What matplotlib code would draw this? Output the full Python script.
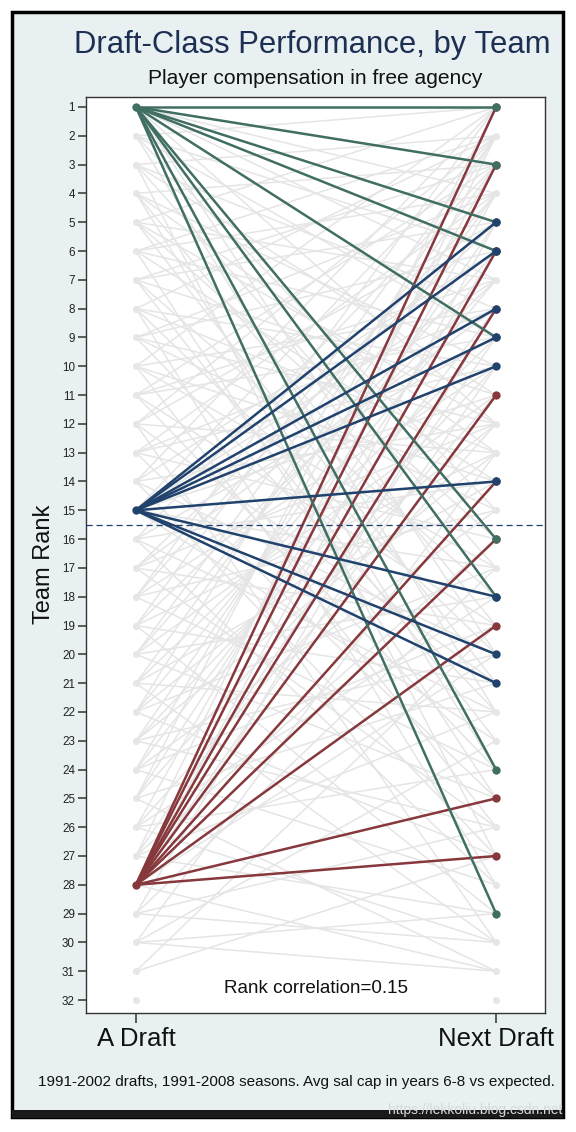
import matplotlib
matplotlib.use("Agg")
import matplotlib.pyplot as plt
from matplotlib.patches import Rectangle

plt.rcParams['font.family'] = ['Liberation Sans', 'DejaVu Sans']

# ---------------- data ----------------
ranks = list(range(1, 33))
x_labels = ["A Draft", "Next Draft"]

green_from = 1
green_to = [1, 3, 5, 6, 9, 16, 18, 24, 29]
blue_from = 15
blue_to = [5, 6, 8, 9, 10, 14, 18, 20, 21]
red_from = 28
red_to = [1, 3, 6, 8, 11, 14, 16, 19, 25, 27]

gray_from = [1, 1, 1, 1,
             2, 2, 2, 2, 2,
             3, 3, 3, 3, 3,
             4, 4, 4, 4, 4,
             5, 5, 5, 5, 5,
             6, 6, 6, 6, 6,
             7, 7, 7, 7, 7,
             8, 8, 8, 8, 8,
             9, 9, 9, 9, 9,
             10, 10, 10, 10, 10,
             11, 11, 11, 11, 11,
             12, 12, 12, 12, 12,
             13, 13, 13, 13, 13,
             14, 14, 14, 14, 14,
             15, 15, 15, 15, 15,
             16, 16, 16, 16, 16,
             17, 17, 17, 17, 17,
             18, 18, 18, 18, 18,
             19, 19, 19, 19, 19,
             20, 20, 20, 20, 20,
             21, 21, 21, 21, 21,
             22, 22, 22, 22, 22,
             23, 23, 23, 23, 23,
             24, 24, 24, 24, 24,
             25, 25, 25, 25, 25,
             26, 26, 26, 26, 26,
             27, 27, 27, 27, 27,
             28, 28, 28, 28, 28,
             29, 29, 29, 29,
             30, 30, 30, 30,
             31, 31]
gray_to = [4, 12, 20, 7,
           1, 9, 15, 22, 6,
           2, 11, 17, 8, 27,
           3, 13, 19, 10, 24,
           1, 7, 16, 21, 12,
           4, 9, 14, 25, 2,
           5, 11, 18, 23, 3,
           2, 10, 20, 13, 28,
           6, 15, 22, 4, 12,
           1, 8, 17, 26, 14,
           3, 9, 19, 24, 7,
           5, 13, 21, 2, 30,
           4, 10, 16, 25, 8,
           6, 12, 20, 27, 1,
           2, 11, 17, 23, 7,
           3, 9, 14, 22, 28,
           5, 12, 19, 26, 8,
           1, 10, 15, 24, 4,
           7, 13, 21, 29, 2,
           6, 11, 18, 25, 3,
           4, 14, 22, 30, 9,
           2, 12, 17, 27, 7,
           5, 10, 20, 26, 13,
           3, 15, 19, 28, 8,
           1, 11, 21, 31, 6,
           4, 12, 18, 24, 30,
           9, 16, 22, 29, 2,
           5, 14, 20, 31, 10,
           8, 17, 26, 30,
           13, 23, 29, 31,
           19, 27]

title = "Draft-Class Performance, by Team"
subtitle = "Player compensation in free agency"
note = "1991-2002 drafts, 1991-2008 seasons. Avg sal cap in years 6-8 vs expected."
corr_text = "Rank correlation=0.15"

# ---------------- style ----------------
W, H = 576, 1132
GREEN = "#416e63"
BLUE = "#20426c"
RED = "#86383c"
GRAY_LINE = "#e5e5e5"
GRAY_DOT = "#e6e6e6"
BG = "#e8f0f2"

fig = plt.figure(figsize=(W / 100, H / 100), dpi=100)
fig.patch.set_facecolor("white")

def fx(px):
    return px / W

def fy(py):
    return 1 - py / H

# outer panel with frame
fig.patches.append(Rectangle((fx(12), fy(1117)), fx(563) - fx(12), fy(12) - fy(1117),
                             transform=fig.transFigure, facecolor=BG,
                             edgecolor="black", linewidth=2.5, zorder=-2))
fig.patches.append(Rectangle((fx(12), fy(1118)), fx(563) - fx(12), fy(1110) - fy(1118),
                             transform=fig.transFigure, facecolor="#1a1a1a",
                             edgecolor="none", zorder=-1))

ax = fig.add_axes([fx(86), fy(1013), fx(545) - fx(86), fy(97) - fy(1013)])
ax.set_zorder(3)
ax.set_facecolor("white")

# gray background lines and dots
for a, b in zip(gray_from, gray_to):
    ax.plot([0, 1], [a, b], color=GRAY_LINE, lw=1.1, zorder=1, solid_capstyle="round")
ax.scatter([0] * len(ranks), ranks, s=26, color=GRAY_DOT, zorder=2, linewidths=0)
ax.scatter([1] * len(ranks), ranks, s=26, color=GRAY_DOT, zorder=2, linewidths=0)

# highlighted groups: red, then green, then blue
for src, dests, col, z in [(red_from, red_to, RED, 3), (green_from, green_to, GREEN, 4),
                           (blue_from, blue_to, BLUE, 5)]:
    for d in dests:
        ax.plot([0, 1], [src, d], color=col, lw=1.8, zorder=z)
    ax.scatter([0], [src], s=36, color=col, zorder=z + 0.5, linewidths=0)
    ax.scatter([1] * len(dests), dests, s=36, color=col, zorder=z + 0.5, linewidths=0)

# median dashed line
ax.axhline(15.5, color=BLUE, lw=0.9, ls=(0, (5, 3)), zorder=6)

ax.text(0.5, 31.6, corr_text, ha="center", va="center", fontsize=13.5, color="#111111", zorder=7)

ax.set_xlim(-50 / 361, 1 + 49 / 361)
ax.set_ylim(32 + 13 / 28.9, 1 - 10 / 28.9)
ax.set_yticks(ranks)
ax.set_yticklabels([str(r) for r in ranks], fontsize=8.4, color="#222222")
ax.set_xticks([0, 1])
ax.set_xticklabels(x_labels, fontsize=18.5, color="#111111")
ax.tick_params(axis="y", length=6, width=1.1, color="#333333", pad=2)
ax.tick_params(axis="x", length=7, width=1.1, color="#333333", pad=3)
for s in ax.spines.values():
    s.set_color("#333333")
    s.set_linewidth(1.0)
ax.set_ylabel("Team Rank", fontsize=17, color="#111111")
ax.yaxis.set_label_coords(-0.068, 0.49)

fig.text(fx(551), fy(45), title, ha="right", va="center", fontsize=22.3, color="#1d2f52")
fig.text(fx(315), fy(79), subtitle, ha="center", va="center", fontsize=15.1, color="#111111")
fig.text(fx(296), fy(1082), note, ha="center", va="center", fontsize=11.0, color="#111111")
fig.text(fx(562), fy(1110), "https://lekkoliu.blog.csdn.net", ha="right", va="center",
         fontsize=10, color="#d8d8d8", zorder=5)

fig.savefig("out.png", dpi=100, facecolor="white")
